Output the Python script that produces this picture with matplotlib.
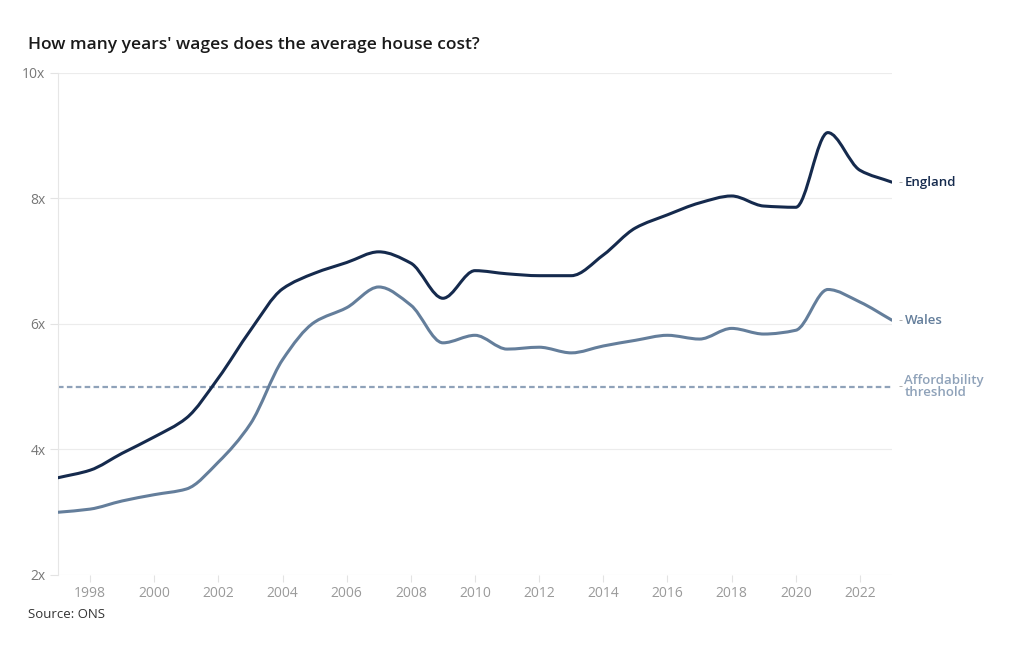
import numpy as np
import matplotlib.pyplot as plt
from matplotlib.path import Path
from matplotlib.patches import PathPatch

plt.rcParams['font.family'] = ['Open Sans', 'DejaVu Sans']

# annual ratio of house prices to earnings
years = list(range(1997, 2024))
england = [3.55, 3.67, 3.94, 4.20, 4.50, 5.14, 5.90, 6.56, 6.81, 6.98, 7.15, 6.97, 6.41,
           6.85, 6.80, 6.77, 6.77, 7.10, 7.53, 7.74, 7.93, 8.04, 7.88, 7.86, 9.05, 8.45, 8.26]
wales = [3.00, 3.05, 3.18, 3.28, 3.37, 3.80, 4.41, 5.43, 6.03, 6.26, 6.59, 6.30, 5.70,
         5.82, 5.60, 5.63, 5.54, 5.65, 5.74, 5.82, 5.76, 5.93, 5.84, 5.90, 6.55, 6.35, 6.06]
threshold = 5
xticks = list(range(1998, 2023, 2))
yticks = [2, 4, 6, 8, 10]

NAVY = '#152a4d'
SLATE = '#647e9b'
PALE = '#8fa2b9'


def smooth_path(x, y):
    """Bezier path through the points with monotone (Fritsch-Carlson) tangents."""
    x = np.asarray(x, float)
    y = np.asarray(y, float)
    h = np.diff(x)
    d = np.diff(y) / h
    m = np.zeros_like(y)
    m[0], m[-1] = d[0], d[-1]
    for i in range(1, len(y) - 1):
        if d[i - 1] * d[i] <= 0:
            m[i] = 0
        else:
            m[i] = 2 / (1 / d[i - 1] + 1 / d[i])
    verts = [(x[0], y[0])]
    codes = [Path.MOVETO]
    for i in range(len(x) - 1):
        verts += [(x[i] + h[i] / 3, y[i] + m[i] * h[i] / 3),
                  (x[i + 1] - h[i] / 3, y[i + 1] - m[i + 1] * h[i] / 3),
                  (x[i + 1], y[i + 1])]
        codes += [Path.CURVE4] * 3
    return Path(verts, codes)


fig = plt.figure(figsize=(10.2, 6.5), dpi=100)
ax = fig.add_axes([58 / 1020, 75 / 650, 834 / 1020, 502 / 650])

ax.set_xlim(1997, 2023)
ax.set_ylim(2, 10)

for v in yticks:
    ax.axhline(v, color='#ececec', lw=0.8, zorder=0)

ax.axhline(threshold, color=PALE, lw=1.6, ls=(0, (2.5, 1.5)), zorder=2)
ax.add_patch(PathPatch(smooth_path(years, wales), fill=False, ec=SLATE, lw=2.2, zorder=3,
                       capstyle='round'))
ax.add_patch(PathPatch(smooth_path(years, england), fill=False, ec=NAVY, lw=2.2, zorder=4,
                       capstyle='round'))

for s in ['top', 'right', 'bottom']:
    ax.spines[s].set_visible(False)
ax.spines['left'].set_color('#e6e6e6')
ax.spines['left'].set_linewidth(0.8)

ax.set_xticks(xticks)
ax.set_xticklabels([str(t) for t in xticks])
ax.set_yticks(yticks)
ax.set_yticklabels([f'{t}x' for t in yticks])
ax.tick_params(axis='x', colors='#e3e3e3', labelcolor='#9a9a9a', labelsize=10, length=5, pad=3)
ax.tick_params(axis='y', colors='#e3e3e3', labelcolor='#777777', labelsize=10, length=6, pad=3)

# line labels on the right
def end_label(yv, text, color):
    ax.annotate('-', xy=(2023, yv), xytext=(5, 0), textcoords='offset points',
                va='center', ha='left', color='#aaaaaa', fontsize=9, annotation_clip=False)
    ax.annotate(text, xy=(2023, yv), xytext=(9, 0), textcoords='offset points',
                va='center', ha='left', color=color, fontsize=9.5, fontweight='semibold',
                linespacing=0.95, annotation_clip=False)

end_label(england[-1], 'England', NAVY)
end_label(wales[-1], 'Wales', SLATE)
end_label(threshold, 'Affordability\nthreshold', PALE)

fig.text(28 / 1020, 1 - 45 / 650, "How many years' wages does the average house cost?",
         fontsize=12.5, fontweight='semibold', color='#1a1a1a', va='center', ha='left')
fig.text(28 / 1020, 1 - 614 / 650, 'Source: ONS', fontsize=9.5, color='#333333',
         va='center', ha='left')

fig.savefig('out.png', dpi=100, facecolor='white')
